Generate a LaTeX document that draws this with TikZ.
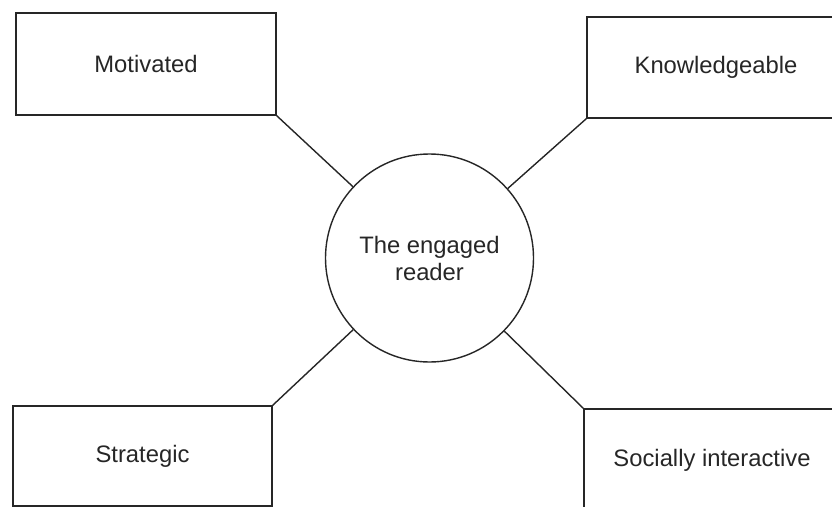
\documentclass[tikz,border=0pt]{standalone}
\usepackage{fontspec}
\setmainfont{Liberation Sans}
\begin{document}
\begin{tikzpicture}[x=1pt,y=-1pt,
  every node/.style={text=black!85},
  box/.style={draw=black!85, line width=1.4pt, rectangle, inner sep=0pt,
    font=\fontsize{23.8}{27}\selectfont},
  hub/.style={draw=black!85, line width=1.4pt, circle, inner sep=0pt,
    minimum size=208pt, align=center, font=\fontsize{23.8}{27}\selectfont},
  link/.style={draw=black!85, line width=1.4pt}]
\useasboundingbox (0,0) rectangle (832,506);
\node[hub] (c) at (429.5,258) {The engaged\\reader};
\node[box, minimum width=260pt, minimum height=102pt] (mot) at (146,64) {Motivated};
\node[box, minimum width=258pt, minimum height=101pt] (kno) at (716,67.5) {Knowledgeable};
\node[box, minimum width=259pt, minimum height=100pt] (str) at (142.5,456) {Strategic};
\node[box, minimum width=256pt, minimum height=102pt] (soc) at (712,460) {Socially interactive};
\draw[link] (mot.south east) -- (c);
\draw[link] (kno.south west) -- (c);
\draw[link] (str.north east) -- (c);
\draw[link] (soc.north west) -- (c);
\end{tikzpicture}
\end{document}
